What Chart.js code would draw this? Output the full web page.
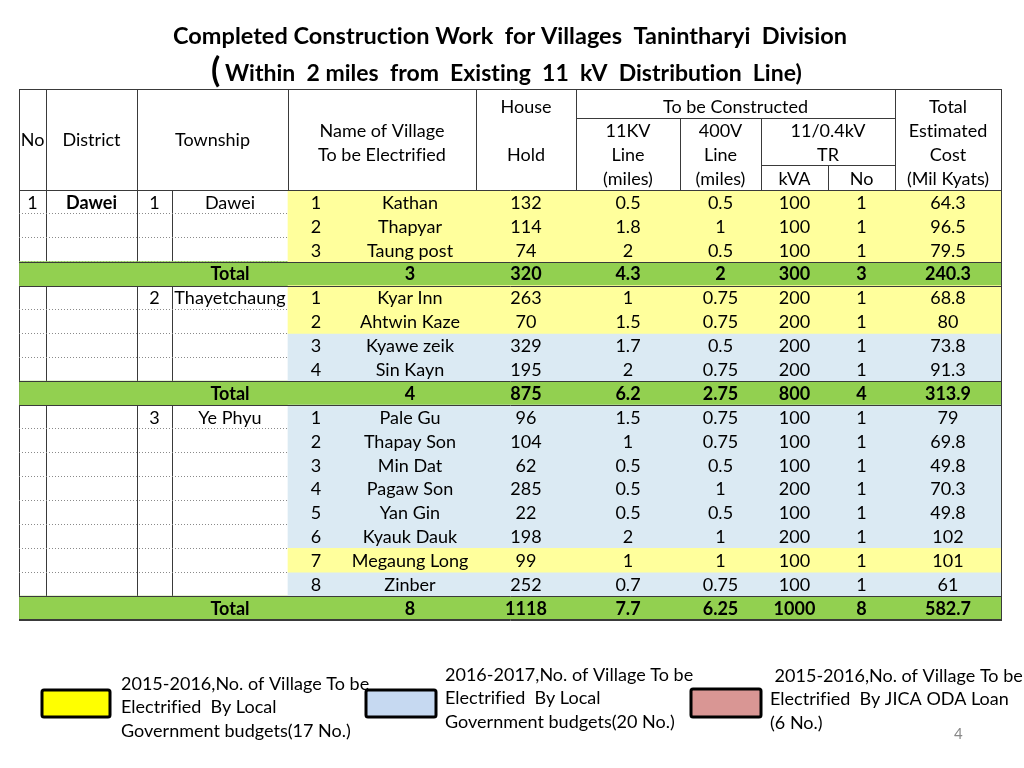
<!DOCTYPE html>
<html><head><meta charset="utf-8">
<script src="https://cdn.jsdelivr.net/npm/chart.js@4/dist/chart.umd.min.js"></script>
<style>html,body{margin:0;padding:0;background:#fff}#wrap{width:1024px;height:768px;position:relative}canvas{display:block}</style>
</head><body><div id="wrap"><canvas id="c" width="1024" height="768"></canvas></div>
<script>
// ---------------- DATA ----------------
const titleLine1 = 'Completed Construction Work  for Villages  Tanintharyi  Division';
const titleLine2 = 'Within  2 miles  from  Existing  11  kV  Distribution  Line)';
const districtNo = '1';
const districtName = 'Dawei';
const townshipNames = ['Dawei', 'Thayetchaung', 'Ye Phyu'];
const villageNames = [
  ['Kathan', 'Thapyar', 'Taung post'],
  ['Kyar Inn', 'Ahtwin Kaze', 'Kyawe zeik', 'Sin Kayn'],
  ['Pale Gu', 'Thapay Son', 'Min Dat', 'Pagaw Son', 'Yan Gin', 'Kyauk Dauk', 'Megaung Long', 'Zinber']
];
const houseHolds = [[132, 114, 74], [263, 70, 329, 195], [96, 104, 62, 285, 22, 198, 99, 252]];
const line11kV = [[0.5, 1.8, 2], [1, 1.5, 1.7, 2], [1.5, 1, 0.5, 0.5, 0.5, 2, 1, 0.7]];
const line400V = [[0.5, 1, 0.5], [0.75, 0.75, 0.5, 0.75], [0.75, 0.75, 0.5, 1, 0.5, 1, 1, 0.75]];
const trKVA = [[100, 100, 100], [200, 200, 200, 200], [100, 100, 100, 200, 100, 200, 100, 100]];
const trNo = [[1, 1, 1], [1, 1, 1, 1], [1, 1, 1, 1, 1, 1, 1, 1]];
const estCost = [[64.3, 96.5, 79.5], [68.8, 80, 73.8, 91.3], [79, 69.8, 49.8, 70.3, 49.8, 102, 101, 61]];
// budget group: Y = 2015-2016 local budget, B = 2016-2017 local budget
const budgetGroup = [['Y', 'Y', 'Y'], ['Y', 'Y', 'B', 'B'], ['B', 'B', 'B', 'B', 'B', 'B', 'Y', 'B']];
const totalVillages = [3, 4, 8];
const totalHouse = [320, 875, 1118];
const total11kV = [4.3, 6.2, 7.7];
const total400V = [2, 2.75, 6.25];
const totalKVA = [300, 800, 1000];
const totalTrNo = [3, 4, 8];
const totalCost = [240.3, 313.9, 582.7];
const legendTexts = [
  ['2015-2016,No. of Village To be', 'Electrified  By Local', 'Government budgets(17 No.)'],
  ['2016-2017,No. of Village To be', 'Electrified  By Local', 'Government budgets(20 No.)'],
  [' 2015-2016,No. of Village To be', 'Electrified  By JICA ODA Loan', '(6 No.)']
];
const pageNumber = '4';

// ---------------- LAYOUT / STYLE ----------------
const colEdges = [0, 27, 118, 153, 269, 325, 457, 557, 661, 742, 809, 876, 982];
const FONT = 'Lato, "Open Sans", sans-serif';
const YELLOW = '#FFFF9C';
const BLUE = '#DBEAF3';
const GREEN = '#92D050';
const LINE = '#3a3a3a';

// build rows
const rows = [];
townshipNames.forEach((tw, t) => {
  villageNames[t].forEach((v, i) => {
    rows.push({
      label: v, total: false, fill: budgetGroup[t][i],
      cells: [(t === 0 && i === 0) ? districtNo : '', (t === 0 && i === 0) ? districtName : '',
        i === 0 ? String(t + 1) : '', i === 0 ? tw : '', String(i + 1), v,
        houseHolds[t][i], line11kV[t][i], line400V[t][i], trKVA[t][i], trNo[t][i], estCost[t][i]].map(String)
    });
  });
  rows.push({
    label: 'Total ' + (t + 1), total: true, fill: 'G',
    cells: ['', '', '', 'Total', '', totalVillages[t], totalHouse[t], total11kV[t], total400V[t], totalKVA[t], totalTrNo[t], totalCost[t]].map(String)
  });
});

const tablePlugin = {
  id: 'tableDecor',
  afterDraw(chart) {
    const ctx = chart.ctx, xs = chart.scales.x, ys = chart.scales.y, ca = chart.chartArea;
    const X = colEdges.map(v => xs.getPixelForValue(v));
    const rowH = ys.getPixelForValue(1) - ys.getPixelForValue(0);
    const hTop = ca.top - 101;
    const yAt = off => hTop + off;
    ctx.save();
    try { ctx.letterSpacing = '0.01px'; } catch (e) {}
    const hline = (x1, x2, y, color, w) => { ctx.strokeStyle = color || LINE; ctx.lineWidth = w || 1; ctx.beginPath(); ctx.moveTo(x1, Math.round(y) + 0.5); ctx.lineTo(x2, Math.round(y) + 0.5); ctx.stroke(); };
    const vline = (x, y1, y2, color) => { ctx.strokeStyle = color || LINE; ctx.lineWidth = 1; ctx.beginPath(); ctx.moveTo(Math.round(x) + 0.5, y1); ctx.lineTo(Math.round(x) + 0.5, y2); ctx.stroke(); };
    // header lines
    hline(X[0], X[12] + 1, hTop);
    [0, 1, 2, 4, 6, 7, 11, 12].forEach(i => vline(X[i], hTop, ca.top));
    [8, 9].forEach(i => vline(X[i], yAt(29), ca.top));
    vline(X[10], yAt(76), ca.top);
    hline(X[7], X[11], yAt(29));
    hline(X[9], X[11], yAt(76));
    hline(X[0], X[12] + 1, ca.top);
    // solid lines around totals & bottom
    rows.forEach((r, i) => {
      if (r.total) {
        const c = ys.getPixelForValue(i);
        hline(X[0], X[12] + 1, c - rowH / 2);
        hline(X[0], X[12] + 1, c + rowH / 2);
      }
    });
    hline(X[0], X[12] + 1, ca.bottom - 1);

    // header text
    ctx.fillStyle = '#000';
    ctx.textAlign = 'center';
    ctx.textBaseline = 'middle';
    ctx.font = '18px ' + FONT;
    const mid = (a, b) => (X[a] + X[b]) / 2;
    const ht = (t, a, b, off) => ctx.fillText(t, mid(a, b), yAt(off));
    ht('No', 0, 1, 51); ht('District', 1, 2, 51); ht('Township', 2, 4, 51);
    ht('Name of Village', 4, 6, 42); ht('To be Electrified', 4, 6, 66);
    ht('House', 6, 7, 18); ht('Hold', 6, 7, 66);
    ht('To be Constructed', 7, 11, 18);
    ht('11KV', 7, 8, 42); ht('Line', 7, 8, 66); ht('(miles)', 7, 8, 90);
    ht('400V', 8, 9, 42); ht('Line', 8, 9, 66); ht('(miles)', 8, 9, 90);
    ht('11/0.4kV', 9, 11, 42); ht('TR', 9, 11, 66);
    ht('kVA', 9, 10, 90); ht('No', 10, 11, 90);
    ht('Total', 11, 12, 18); ht('Estimated', 11, 12, 42); ht('Cost', 11, 12, 66); ht('(Mil Kyats)', 11, 12, 90);

    // body text
    rows.forEach((r, i) => {
      const cy = ys.getPixelForValue(i) + 1;
      r.cells.forEach((txt, c) => {
        if (!txt) return;
        const bold = r.total || c === 1;
        ctx.font = (bold ? 'bold ' : '') + '18px ' + FONT;
        ctx.fillText(txt, mid(c, c + 1), cy, X[c + 1] - X[c] - 2);
      });
    });

    // title
    ctx.font = 'bold 23.5px ' + FONT;
    ctx.fillText(titleLine1, 510, 36);
    ctx.textAlign = 'left';
    ctx.font = 'bold 34px ' + FONT;
    ctx.fillText('(', 211, 71);
    ctx.font = 'bold 23px ' + FONT;
    ctx.fillText(titleLine2, 225, 74);

    // legend
    const boxes = [[42, 690, 68, 27, '#FFFF00'], [366, 690, 70, 27, '#C6D9F1'], [691, 689, 70, 28, '#D99694']];
    boxes.forEach(b => {
      ctx.fillStyle = b[4];
      ctx.strokeStyle = '#000';
      ctx.lineWidth = 3;
      ctx.beginPath();
      ctx.roundRect(b[0], b[1], b[2], b[3], 2);
      ctx.fill(); ctx.stroke();
    });
    ctx.fillStyle = '#000';
    ctx.font = '18px ' + FONT;
    const legPos = [[121, 684], [445, 675], [770, 676]];
    legendTexts.forEach((lines, k) => {
      lines.forEach((ln, j) => ctx.fillText(ln, legPos[k][0], legPos[k][1] + j * 23.5));
    });
    ctx.fillStyle = '#888';
    ctx.font = '15px ' + FONT;
    ctx.fillText(pageNumber, 954, 734);
    ctx.restore();
  }
};

const span = (a, b) => [colEdges[a], colEdges[b]];
new Chart(document.getElementById('c'), {
  type: 'bar',
  data: {
    labels: rows.map(r => r.label),
    datasets: [
      { label: '2015-2016 local budget', data: rows.map(r => r.fill === 'Y' ? span(4, 12) : null), backgroundColor: YELLOW },
      { label: '2016-2017 local budget', data: rows.map(r => r.fill === 'B' ? span(4, 12) : null), backgroundColor: BLUE },
      { label: 'Total', data: rows.map(r => r.total ? span(0, 12) : null), backgroundColor: GREEN }
    ].map(d => Object.assign(d, { grouped: false, barPercentage: 1, categoryPercentage: 1, borderWidth: 0 }))
  },
  options: {
    indexAxis: 'y',
    responsive: false,
    animation: false,
    devicePixelRatio: 1,
    events: [],
    layout: { padding: { left: 19, right: 23, top: 190, bottom: 148 } },
    plugins: { legend: { display: false }, tooltip: { enabled: false }, title: { display: false } },
    scales: {
      x: {
        type: 'linear', min: 0, max: 982, z: 1,
        afterBuildTicks: s => { s.ticks = colEdges.map(v => ({ value: v })); },
        afterFit: s => { s.height = 0; },
        ticks: { display: false },
        grid: { color: LINE, lineWidth: 1, drawTicks: false },
        border: { display: false }
      },
      y: {
        type: 'category', z: 1,
        afterFit: s => { s.width = 0; },
        ticks: { display: false },
        grid: { color: '#8a8a8a', lineWidth: 1, drawTicks: false, offset: true },
        border: { display: false, dash: [1, 2] }
      }
    }
  },
  plugins: [tablePlugin]
});
</script>
</body></html>
